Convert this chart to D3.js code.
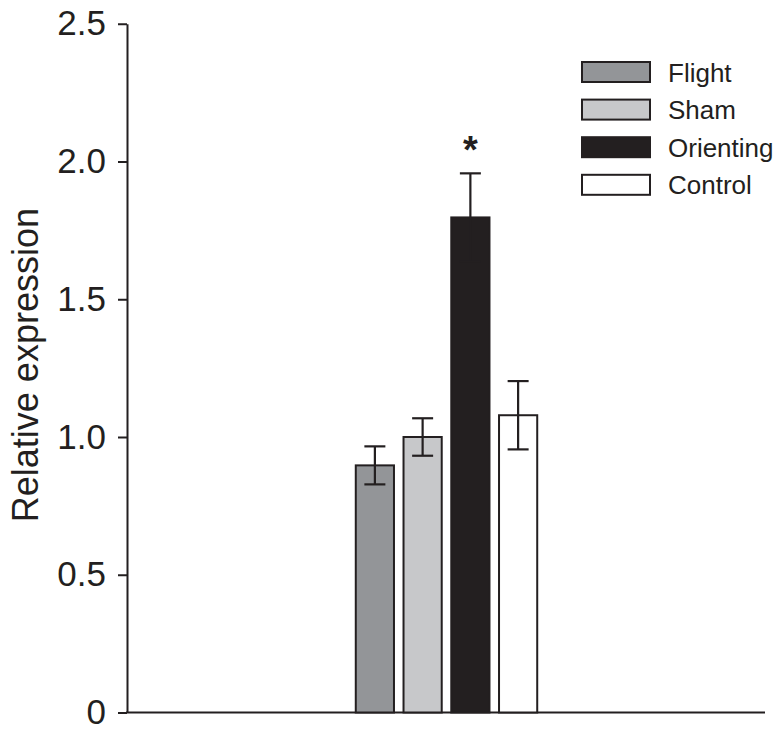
<!DOCTYPE html>
<html lang="en">
<head>
    <meta charset="UTF-8">
    <title>Relative expression</title>
    <script src="https://d3js.org/d3.v7.min.js"></script>
    <style>
        body { margin: 0; background: #fff; }
        svg text { font-family: "Liberation Sans", Arial, sans-serif; fill: #231f20; }
        .axis path, .axis line { stroke: #231f20; stroke-width: 2px; }
        .bar { stroke: #231f20; stroke-width: 2px; }
        .err { stroke: #231f20; stroke-width: 2.2px; fill: none; }
    </style>
</head>
<body>
<div id="chart"></div>
<script>
    // data
    const groups = ["Flight", "Sham", "Orienting", "Control"];
    const means = [0.897, 1.0, 1.797, 1.079];
    const errors = [0.069, 0.068, 0.16, 0.124];
    const colors = ["#939598", "#c7c8ca", "#231f20", "#ffffff"];
    const yTicks = [0, 0.5, 1.0, 1.5, 2.0, 2.5];
    const significant = [false, false, true, false];

    const width = 778, height = 738;

    const svg = d3.select("#chart").append("svg")
        .attr("width", width)
        .attr("height", height);

    const y = d3.scaleLinear().domain([0, 2.5]).range([712.5, 23.75]);
    const x = d3.scaleBand().domain(groups).range([351, 542])
        .paddingInner(0.2).paddingOuter(0.1);

    // y axis
    const yAxis = svg.append("g")
        .attr("class", "axis")
        .attr("transform", "translate(127,0)")
        .call(d3.axisLeft(y).tickValues(yTicks).tickSize(9).tickSizeOuter(0)
            .tickFormat(d => d === 0 ? "0" : d3.format(".1f")(d)));
    yAxis.selectAll("text")
        .attr("x", -21)
        .style("font-size", "35px");

    // x axis line, no ticks
    svg.append("line")
        .attr("x1", 126).attr("x2", 765)
        .attr("y1", y(0)).attr("y2", y(0))
        .attr("stroke", "#231f20").attr("stroke-width", 2.2);

    svg.append("text")
        .attr("transform", `translate(38,${y(1.25) - 3}) rotate(-90)`)
        .attr("text-anchor", "middle")
        .style("font-size", "36px")
        .text("Relative expression");

    const data = groups.map((g, i) => ({ g, m: means[i], e: errors[i], c: colors[i], sig: significant[i] }));

    svg.selectAll(".bar").data(data).enter().append("rect")
        .attr("class", "bar")
        .attr("x", d => x(d.g))
        .attr("y", d => y(d.m))
        .attr("width", x.bandwidth())
        .attr("height", d => y(0) - y(d.m))
        .attr("fill", d => d.c);

    const cap = 10.5;
    const eb = svg.selectAll(".errg").data(data).enter().append("g");
    eb.append("line").attr("class", "err")
        .attr("x1", d => x(d.g) + x.bandwidth() / 2)
        .attr("x2", d => x(d.g) + x.bandwidth() / 2)
        .attr("y1", d => y(d.m - d.e))
        .attr("y2", d => y(d.m + d.e));
    eb.append("line").attr("class", "err")
        .attr("x1", d => x(d.g) + x.bandwidth() / 2 - cap)
        .attr("x2", d => x(d.g) + x.bandwidth() / 2 + cap)
        .attr("y1", d => y(d.m + d.e))
        .attr("y2", d => y(d.m + d.e));
    eb.append("line").attr("class", "err")
        .attr("x1", d => x(d.g) + x.bandwidth() / 2 - cap)
        .attr("x2", d => x(d.g) + x.bandwidth() / 2 + cap)
        .attr("y1", d => y(d.m - d.e))
        .attr("y2", d => y(d.m - d.e));

    svg.selectAll(".star").data(data.filter(d => d.sig)).enter().append("text")
        .attr("x", d => x(d.g) + x.bandwidth() / 2)
        .attr("y", d => y(d.m + d.e) - 10)
        .attr("text-anchor", "middle")
        .style("font-size", "38px")
        .style("font-weight", "bold")
        .text("*");

    // legend
    const legend = svg.append("g").attr("transform", "translate(582,62)");
    const item = legend.selectAll("g").data(data).enter().append("g")
        .attr("transform", (d, i) => `translate(0,${i * 37.6})`);
    item.append("rect")
        .attr("width", 68).attr("height", 20)
        .attr("fill", d => d.c)
        .attr("stroke", "#231f20").attr("stroke-width", 2);
    item.append("text")
        .attr("x", 86).attr("y", 19.5)
        .style("font-size", "26px")
        .text(d => d.g);
</script>
</body>
</html>
